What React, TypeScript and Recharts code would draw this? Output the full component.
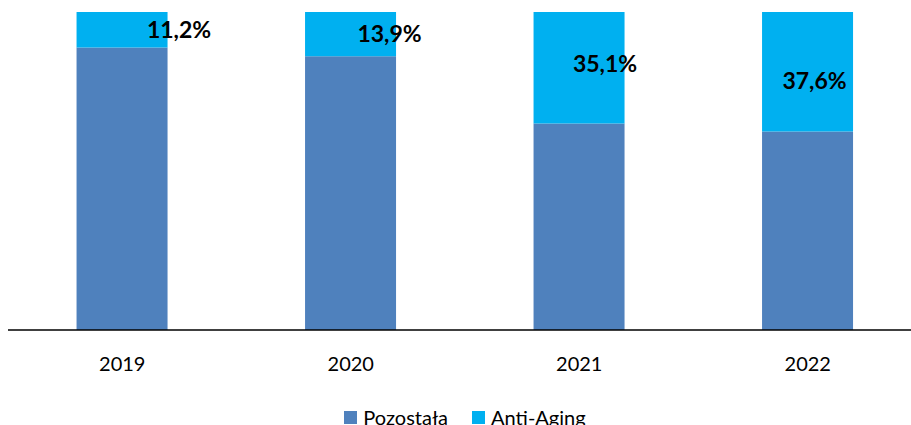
import { BarChart, Bar, XAxis, YAxis, Legend, LabelList } from 'recharts';

const years = ['2019', '2020', '2021', '2022'];
const pozostala = [88.8, 86.1, 64.9, 62.4];
const antiAging = [11.2, 13.9, 35.1, 37.6];
const seriesNames = ['Pozostała', 'Anti-Aging'];

const COLOR_REST = '#4F81BD';
const COLOR_AA = '#00B0F0';
const seriesColors = [COLOR_REST, COLOR_AA];
const FONT = 'Lato, "Open Sans", sans-serif';

// etykiety w oryginale są ręcznie przesunięte w prawo
const labelShiftX = [57, 39, 26, 7];
const labelShiftY = [-1, -1, -5, 8];

const chartData = years.map((year, i) => ({
  year,
  [seriesNames[0]]: pozostala[i],
  [seriesNames[1]]: antiAging[i],
}));

const PercentLabel = (props: any) => {
  const { x, y, width, height, value, index } = props;
  const cx = x + width / 2 + labelShiftX[index];
  const cy = y + height / 2 + labelShiftY[index];
  return (
    <text
      x={cx}
      y={cy}
      textAnchor="middle"
      dominantBaseline="central"
      fontFamily={FONT}
      fontWeight={700}
      fontSize={23}
      fill="#000"
    >
      {value.toFixed(1).replace('.', ',')}%
    </text>
  );
};

// legenda w stałej kolejności: Pozostała, Anti-Aging
const CustomLegend = () => (
  <div style={{ display: 'flex', justifyContent: 'center', fontFamily: FONT, fontSize: 20, color: '#000' }}>
    {seriesNames.map((name, index) => (
      <div key={name} style={{ display: 'flex', alignItems: 'center', marginRight: index === 0 ? 24 : 0 }}>
        <span style={{ display: 'inline-block', width: 13, height: 13, background: seriesColors[index], marginRight: 6 }} />
        <span>{name}</span>
      </div>
    ))}
  </div>
);

export default function App() {
  return (
    <div style={{ position: 'fixed', left: 0, top: 0, width: 911, height: 425, overflow: 'hidden', background: '#fff' }}>
      <div style={{ marginLeft: 8, marginTop: 8 }}>
        <BarChart
          width={914}
          height={440}
          data={chartData}
          margin={{ top: 4, right: 0, left: 0, bottom: 0 }}
          barCategoryGap="30%"
        >
          <XAxis
            dataKey="year"
            axisLine={{ stroke: '#000', strokeWidth: 1.5 }}
            tickLine={false}
            tickMargin={21}
            height={94}
            tick={{ fill: '#000', fontSize: 20, fontFamily: FONT }}
          />
          <YAxis hide domain={[0, 100]} />
          <Legend
            content={<CustomLegend />}
            wrapperStyle={{ position: 'absolute', top: 397, left: 0, width: 914 }}
          />
          <Bar dataKey={seriesNames[0]} stackId="a" fill={COLOR_REST} isAnimationActive={false} />
          <Bar dataKey={seriesNames[1]} stackId="a" fill={COLOR_AA} isAnimationActive={false}>
            <LabelList dataKey={seriesNames[1]} content={<PercentLabel />} />
          </Bar>
        </BarChart>
      </div>
    </div>
  );
}
